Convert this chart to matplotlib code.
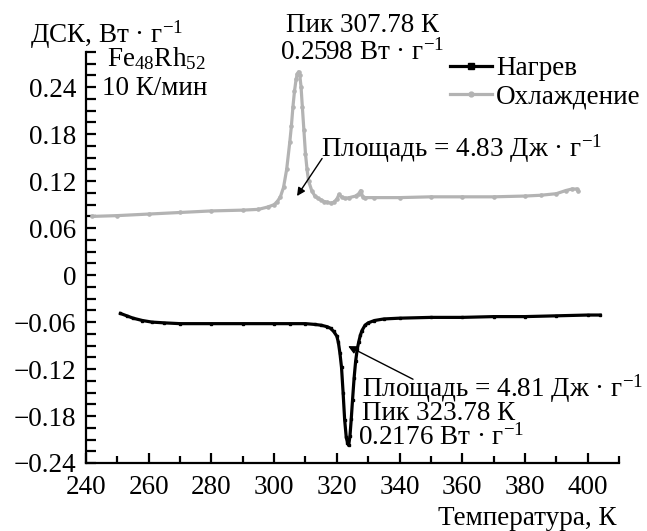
import matplotlib
matplotlib.use("Agg")
import matplotlib.pyplot as plt
from matplotlib.lines import Line2D

FAM = ["Liberation Serif", "DejaVu Serif"]
plt.rcParams["font.family"] = FAM
plt.rcParams["mathtext.fontset"] = "custom"
plt.rcParams["mathtext.rm"] = "Liberation Serif"
plt.rcParams["mathtext.it"] = "Liberation Serif"

# heating curve (black)
heat_t = [251, 253, 255, 258, 261, 265, 270, 280, 290, 300, 305, 310, 313, 315,
          317, 318, 319, 320, 320.5, 321, 321.5, 322, 322.5, 323, 323.4, 323.78,
          324.2, 324.6, 325, 325.5, 326, 326.5, 327, 327.5, 328, 329, 330, 332,
          335, 340, 350, 360, 370, 380, 390, 400, 404]
heat_y = [-0.049, -0.052, -0.055, -0.058, -0.060, -0.061, -0.062, -0.062, -0.062,
          -0.062, -0.062, -0.062, -0.063, -0.064, -0.066, -0.068, -0.072, -0.078,
          -0.086, -0.100, -0.118, -0.150, -0.185, -0.207, -0.214, -0.2176, -0.205,
          -0.184, -0.160, -0.132, -0.110, -0.095, -0.085, -0.077, -0.071, -0.064,
          -0.061, -0.058, -0.056, -0.055, -0.054, -0.054, -0.053, -0.053, -0.052,
          -0.051, -0.051]

# cooling curve (grey)
cool_t = [242, 250, 260, 270, 280, 290, 295, 298, 300, 301, 302, 303, 304, 305,
          305.5, 306, 306.5, 307, 307.4, 307.78, 308.2, 308.6, 309, 309.5, 310,
          310.5, 311, 312, 313, 314, 315, 316, 317, 318, 319, 320, 320.7, 321.5,
          322.5, 324, 326, 327, 327.6, 328.3, 329, 332, 340, 350, 360, 370, 380,
          385, 390, 393, 395, 396.5, 397]
cool_y = [0.075, 0.076, 0.078, 0.080, 0.082, 0.083, 0.084, 0.087, 0.090, 0.094,
          0.100, 0.112, 0.135, 0.170, 0.190, 0.215, 0.235, 0.250, 0.257, 0.2598,
          0.255, 0.240, 0.215, 0.185, 0.155, 0.135, 0.120, 0.108, 0.101, 0.098,
          0.096, 0.094, 0.093, 0.092, 0.093, 0.097, 0.103, 0.100, 0.098, 0.099,
          0.101, 0.104, 0.108, 0.100, 0.099, 0.099, 0.099, 0.100, 0.100, 0.100,
          0.101, 0.102, 0.104, 0.108, 0.110, 0.110, 0.107]

x_ticks = [240, 260, 280, 300, 320, 340, 360, 380, 400]
y_ticks = [-0.24, -0.18, -0.12, -0.06, 0, 0.06, 0.12, 0.18, 0.24]
y_labels = ["\u22120.24", "\u22120.18", "\u22120.12", "\u22120.06", "0",
            "0.06", "0.12", "0.18", "0.24"]

FS = 19.5
W, H = 647, 531


def fp(x, y):
    # pixel position (from top-left) -> figure fraction
    return x / W, 1 - y / H


def label(x, y, s, **kw):
    fig.text(*fp(x, y), s, fontsize=FS, family=FAM, va="baseline", **kw)


fig = plt.figure(figsize=(W / 100, H / 100), dpi=100)
ax = fig.add_axes([86 / W, 1 - 463 / H, (619 - 86) / W, (463 - 52) / H])

grey = "#b3b3b3"
ax.plot(cool_t, cool_y, color=grey, lw=2.3, marker="o", ms=2.3, mec=grey, mfc=grey)
ax.plot(heat_t, heat_y, color="black", lw=2.3, marker="s", ms=2.0)

ax.set_xlim(240, 410)
ax.set_ylim(-0.24, 0.285)
ax.set_xticks(x_ticks)
ax.set_xticklabels([str(t) for t in x_ticks], family=FAM, fontsize=FS)
ax.set_xticks(range(250, 411, 20), minor=True)
ax.set_yticks(y_ticks)
ax.set_yticklabels(y_labels, family=FAM, fontsize=FS)
ax.set_yticks([v / 1000 for v in range(-225, 286, 15) if v % 60 != 0], minor=True)

for s in ["top", "right"]:
    ax.spines[s].set_visible(False)
for s in ["left", "bottom"]:
    ax.spines[s].set_linewidth(1.6)
ax.tick_params(which="both", direction="in", width=1.6)
ax.tick_params(axis="y", which="major", length=7, pad=7)
ax.tick_params(axis="y", which="minor", length=7)
ax.tick_params(axis="x", which="major", length=7, pad=9)
ax.tick_params(axis="x", which="minor", length=5)

handles = [
    Line2D([], [], color="black", lw=2.3, marker="s", ms=5),
    Line2D([], [], color=grey, lw=2.3, marker="o", ms=3.5, mec=grey),
]
ax.legend(handles, ["Нагрев", "Охлаждение"], loc="upper left",
          bbox_to_anchor=fp(450, 56), bbox_transform=fig.transFigure,
          frameon=False, prop={"family": FAM, "size": FS}, handlelength=1.55,
          handletextpad=0.15, labelspacing=0.12, borderaxespad=0, borderpad=0)

label(30, 43, "ДСК, Вт · г$^{-1}$")
label(107, 66, "Fe$_{48}$Rh$_{52}$")
label(102, 95, "10 К/мин")
label(362, 32, "Пик 307.78 К", ha="center")
label(362, 60, "0.2598 Вт · г$^{-1}$", ha="center")
label(321, 157, "Площадь = 4.83 Дж · г$^{-1}$")
label(362, 397, "Площадь = 4.81 Дж · г$^{-1}$")
label(362, 420, "Пик 323.78 К")
label(358, 445, "0.2176 Вт · г$^{-1}$")
label(438, 525, "Температура, К")

arrow = dict(arrowstyle="-|>", color="black", lw=1.0, mutation_scale=12,
             shrinkA=0, shrinkB=0)
ax.annotate("", xy=(307.3, 0.101), xytext=(315.3, 0.149), arrowprops=arrow)
ax.annotate("", xy=(323.6, -0.0907), xytext=(344.3, -0.133), arrowprops=arrow)

fig.savefig("out.png", dpi=100)
